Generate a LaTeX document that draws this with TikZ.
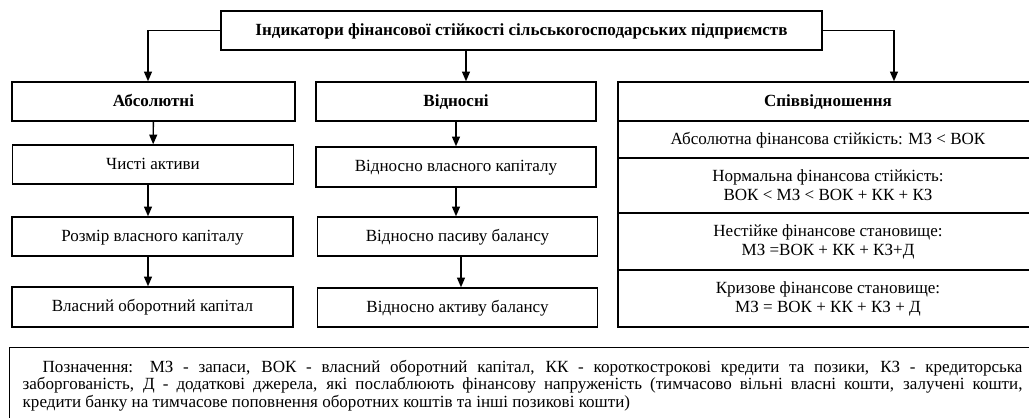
\documentclass[tikz,border=0pt]{standalone}
\usepackage{fontspec}
\setmainfont{Liberation Serif}
\usetikzlibrary{arrows.meta}
\tikzset{>={Triangle[width=4.5pt,length=5.5pt]}}
\tikzset{
  box/.style={draw, line width=0.8pt, align=center, inner sep=0pt, font=\fontsize{9.7}{10.8}\selectfont},
  oneline/.style={text height=1.6ex, text depth=0.4ex},
  hbox/.style={box, oneline, font=\fontsize{9.7}{10.8}\selectfont\bfseries},
  colA/.style={box, oneline, minimum width=5.62cm, minimum height=0.78cm},
  colV/.style={box, oneline, minimum width=5.6cm, minimum height=0.78cm},
  colR/.style={box, minimum width=8.4cm},
  arr/.style={->, line width=0.8pt}
}

\begin{document}
\begin{tikzpicture}[x=0.02cm, y=-0.02cm]
\clip (0,0) rectangle (1029,418);
% top
\node[hbox, minimum width=12.02cm, minimum height=0.78cm] (ind) at (521.5,30.5) {Індикатори фінансової стійкості сільськогосподарських підприємств};
\node[hbox, minimum width=5.66cm, minimum height=0.78cm] (abs) at (153.5,101.5) {Абсолютні};
\node[hbox, minimum width=5.6cm, minimum height=0.78cm] (vidn) at (456,101.5) {Відносні};
\node[hbox, minimum width=8.4cm, minimum height=0.78cm] (spiv) at (828,101.5) {Співвідношення};
% absolute
\node[colA] (chysti) at (153,164.5) {Чисті активи};
\node[colA] (rozmir) at (152.5,236.5) {Розмір власного капіталу};
\node[colA, minimum height=0.8cm] (vok) at (152.5,307) {Власний оборотний капітал};
% relative
\node[colV, minimum height=0.8cm] (vlasn) at (456,167) {Відносно власного капіталу};
\node[colV] (pasyv) at (457.5,236.5) {Відносно пасиву балансу};
\node[colV] (aktyv) at (457.5,307.5) {Відносно активу балансу};
% ratios
\node[colR, oneline, minimum height=0.74cm] (r1) at (828,139.5) {Абсолютна фінансова стійкість: МЗ < ВОК};
\node[colR, minimum height=1.1cm] (r2) at (828,185.5) {Нормальна фінансова стійкість:\\ВОК < МЗ < ВОК + КК + КЗ};
\node[colR, minimum height=1.14cm] (r3) at (828,241.5) {Нестійке фінансове становище:\\МЗ =ВОК + КК + КЗ+Д};
\node[colR, minimum height=1.14cm] (r4) at (828,298.5) {Кризове фінансове становище:\\МЗ = ВОК + КК + КЗ + Д};
% note
\node[draw, line width=0.8pt, anchor=north west, text width=20cm, inner xsep=0.26cm, inner ysep=0.25cm, align=justify, font=\fontsize{9.7}{10}\selectfont] (note) at (9,347) {\hspace*{0.4cm}Позначення: МЗ - запаси, ВОК - власний оборотний капітал, КК - короткострокові кредити та позики, КЗ - кредиторська\linebreak заборгованість, Д - додаткові джерела, які послаблюють фінансову напруженість (тимчасово вільні власні кошти, залучені кошти,\linebreak кредити банку на тимчасове поповнення оборотних коштів та інші позикові кошти)\\[3pt]};

\draw[arr] (ind.west) -| (abs.north -| 148,0);
\draw[arr] (ind.south -| 466,0) -- (vidn.north -| 466,0);
\draw[arr] (ind.east) -| (spiv.north -| 894,0);
\draw[arr] (abs) -- (chysti);
\draw[arr] (chysti.south -| 148,0) -- (rozmir.north -| 148,0);
\draw[arr] (rozmir.south -| 148,0) -- (vok.north -| 148,0);
\draw[arr] (vidn) -- (vlasn);
\draw[arr] (vlasn.south -| 456,0) -- (pasyv.north -| 456,0);
\draw[arr] (pasyv.south -| 461,0) -- (aktyv.north -| 461,0);
\end{tikzpicture}
\end{document}
